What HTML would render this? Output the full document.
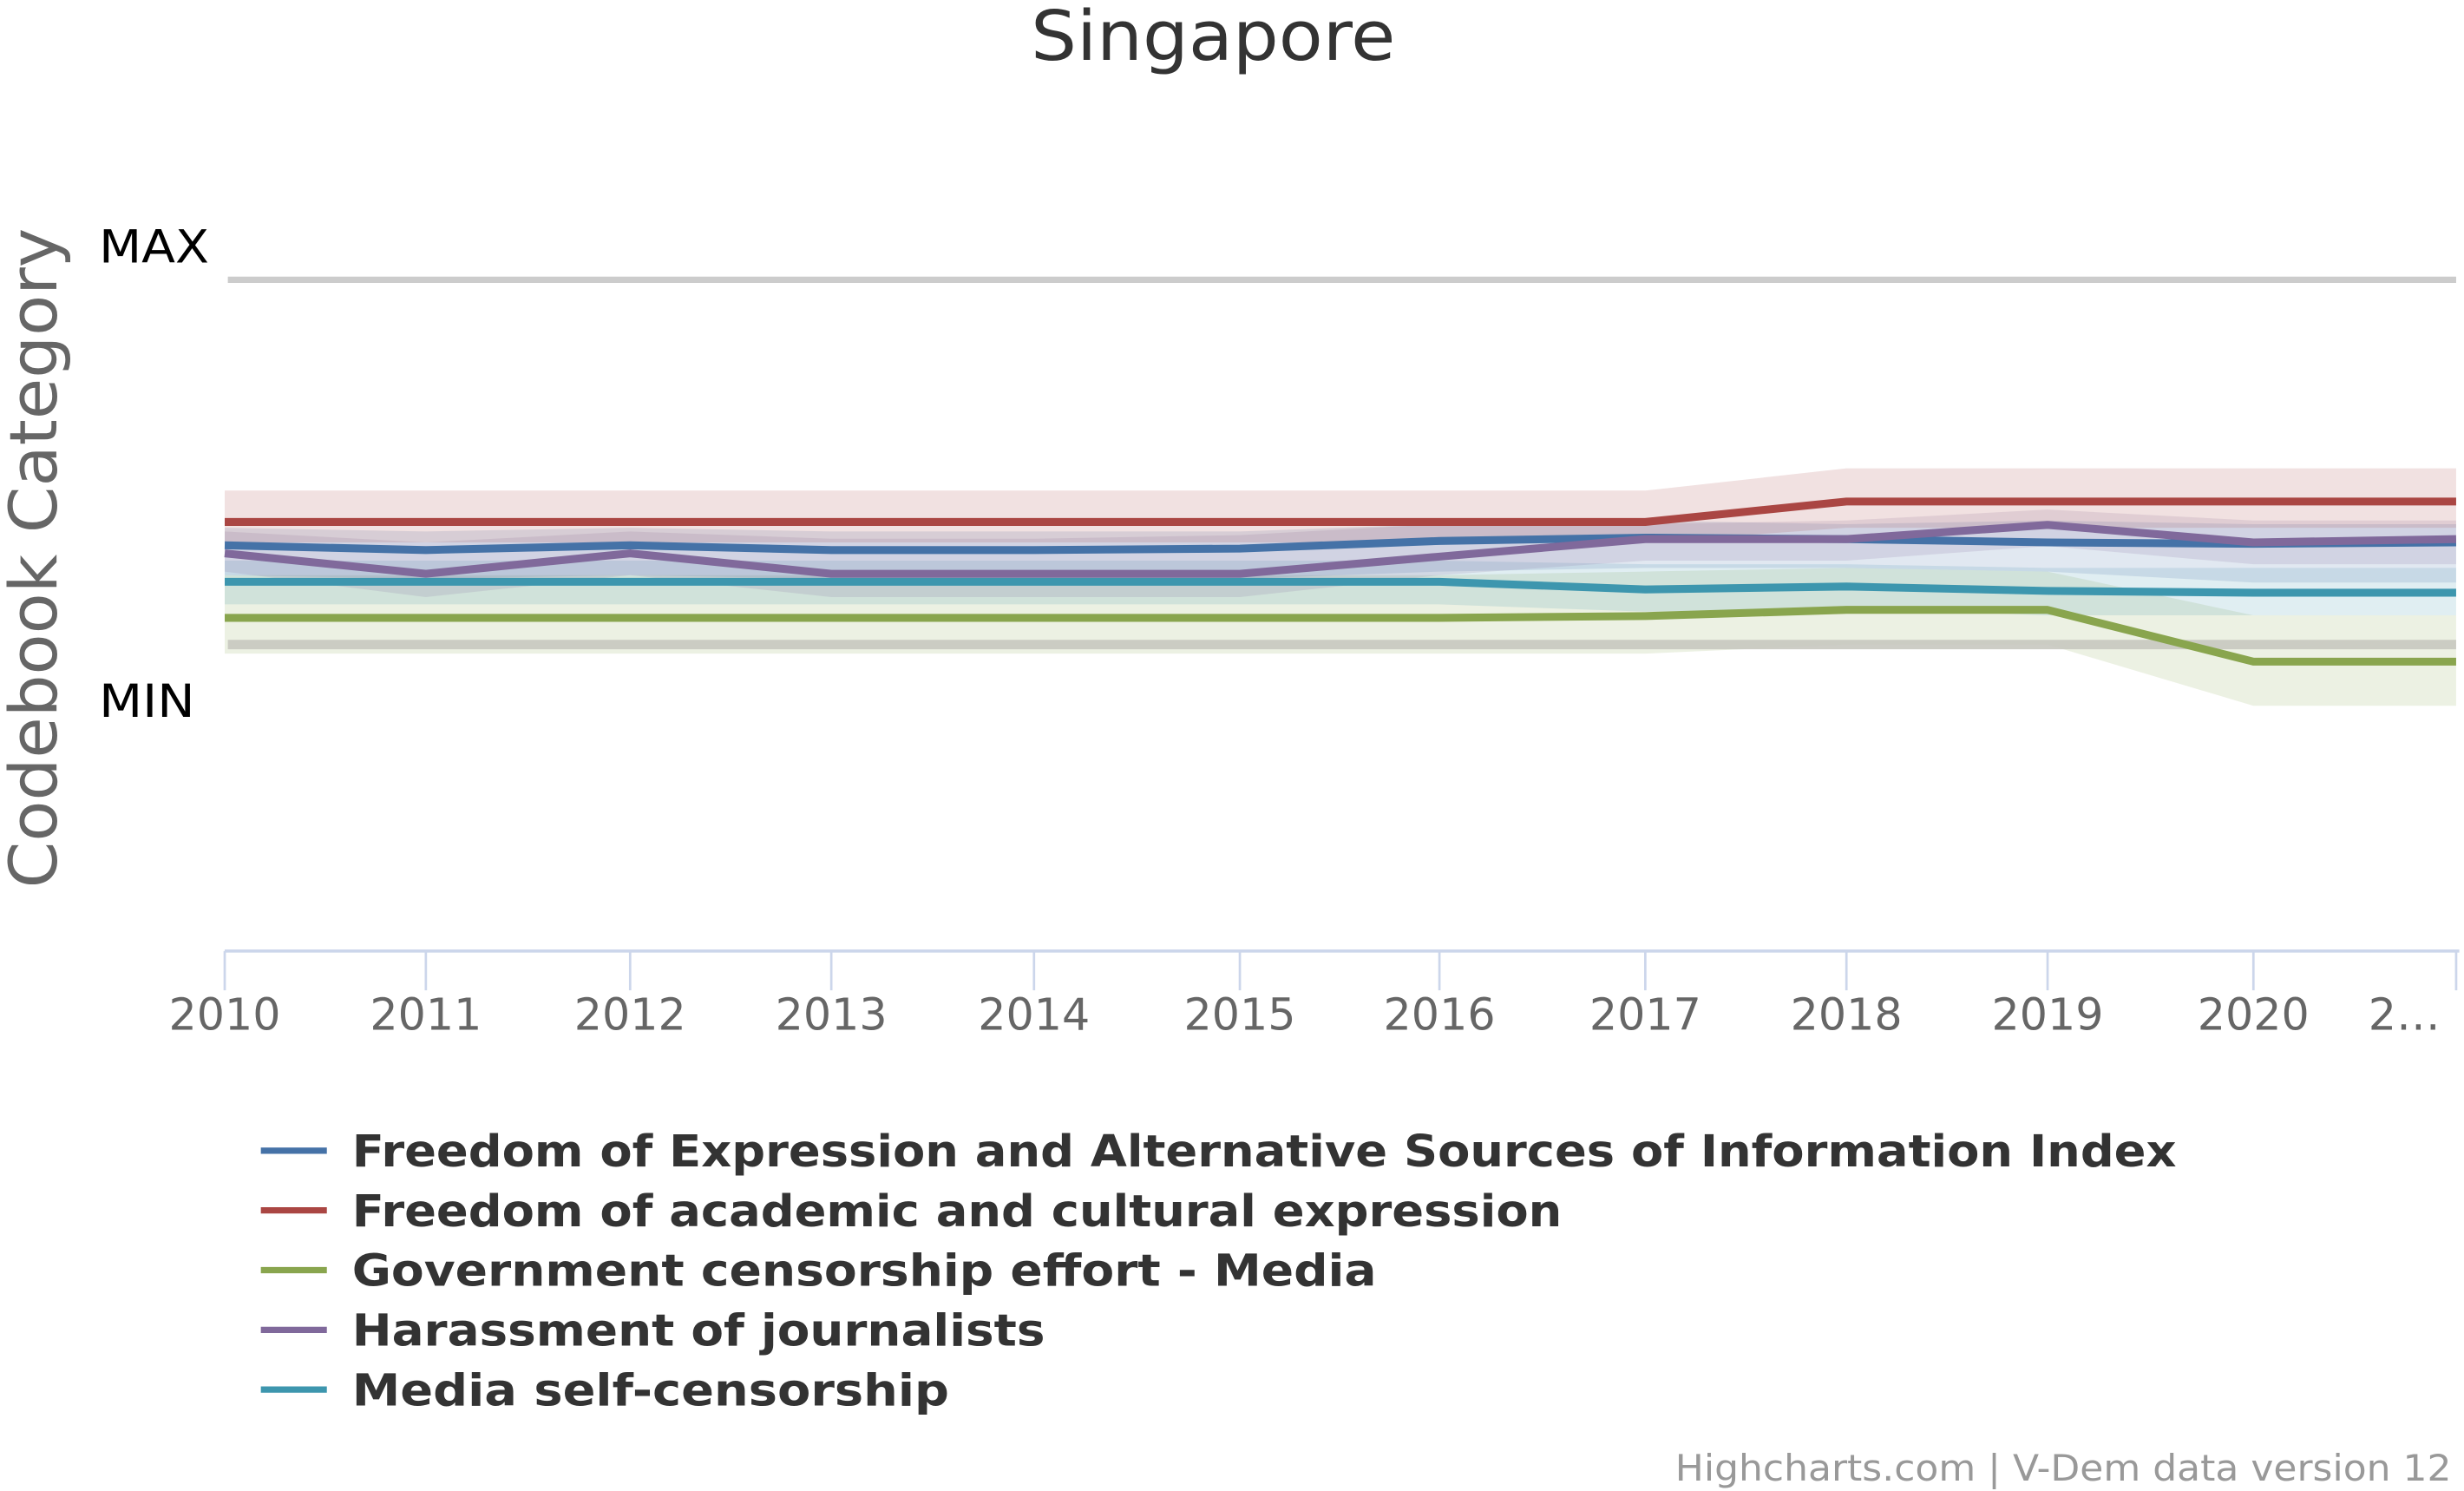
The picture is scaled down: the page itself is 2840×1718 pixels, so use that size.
<!DOCTYPE html>
<html><head><meta charset="utf-8"><style>
html,body{margin:0;padding:0;background:#fff;}
svg{display:block;font-family:"DejaVu Sans","Liberation Sans",sans-serif;}
</style></head><body>
<svg id="chart" width="2840" height="1718" viewBox="0 0 1568 948.5" xmlns="http://www.w3.org/2000/svg">
<text x="772" y="38" text-anchor="middle" font-size="44" fill="#333" textLength="232" lengthAdjust="spacingAndGlyphs">Singapore</text>
<text transform="translate(36,355) rotate(-90)" text-anchor="middle" font-size="42" fill="#666" textLength="420" lengthAdjust="spacingAndGlyphs">Codebook Category</text>
<line x1="145" x2="1563" y1="178" y2="178" stroke="#ccc" stroke-width="4"/>
<text x="63" y="167" font-size="29" fill="#000" textLength="70" lengthAdjust="spacingAndGlyphs">MAX</text>
<text x="63" y="456" font-size="29" fill="#000" textLength="61" lengthAdjust="spacingAndGlyphs">MIN</text>
<g id="bands"></g>
<line x1="145" x2="1563" y1="410" y2="410" stroke="#c8c8c0" stroke-width="6" opacity="0.9"/>
<g id="lines"></g>
<line x1="143" x2="1565" y1="605" y2="605" stroke="#ccd6eb" stroke-width="2"/>
<g id="xaxis"></g>
<g id="legend"></g>
<text x="1560" y="942" text-anchor="end" font-size="23" fill="#999" textLength="494" lengthAdjust="spacingAndGlyphs">Highcharts.com | V-Dem data version 12</text>
</svg>
<script>
const years = ["2010","2011","2012","2013","2014","2015","2016","2017","2018","2019","2020","2…"];
const seriesNames = ["Freedom of Expression and Alternative Sources of Information Index","Freedom of academic and cultural expression","Government censorship effort - Media","Harassment of journalists","Media self-censorship"];
const blueVals = [27.2,25.9,27.2,25.9,25.9,26.3,28.4,29.3,28.9,28.0,27.6,28.0];
const redVals = [33.6,33.6,33.6,33.6,33.6,33.6,33.6,33.6,39.2,39.2,39.2,39.2];
const greenVals = [7.3,7.3,7.3,7.3,7.3,7.3,7.3,7.8,9.5,9.5,-4.7,-4.7];
const purpleVals = [25.0,19.4,25.0,19.4,19.4,19.4,24.1,28.9,28.9,32.8,28.0,28.9];
const tealVals = [17.2,17.2,17.2,17.2,17.2,17.2,17.2,15.1,15.9,14.7,14.2,14.2];
const blueLo = [19,18,19,18,18,18,20,21,21,20,17,17];
const blueHi = [32,31,32,31,31,31,33,34,33,34,33,33];
const redLo = [28,28,28,28,28,28,28,28,32,32,32,32];
const redHi = [42.2,42.2,42.2,42.2,42.2,42.2,42.2,42.2,48.3,48.3,48.3,48.3];
const greenLo = [-2.5,-2.5,-2.5,-2.5,-2.5,-2.5,-2.5,-2.5,0,0,-16.8,-16.8];
const greenHi = [19,19,19,19,19,19,19,20,21,20,8,8];
const purpleLo = [20,13,19,13,13,13,19,23,23,27,22,22];
const purpleHi = [31,28,31,29,29,30,33,33,34,37,34,34];
const tealLo = [11,11,11,11,11,11,11,9,10,8,8,8];
const tealHi = [23,23,23,23,23,23,23,22,22,21,21,21];
const tickX = [143,271,401,529,658,789,916,1047,1175,1303,1434,1563];
function xs(i){return tickX[i];}
function ys(v){return 410 - v*2.32;}
const NS="http://www.w3.org/2000/svg";
const bands=document.getElementById('bands'), lines=document.getElementById('lines');
const defs=[
 {name:'blue',c:'#4572a7',v:blueVals,lo:blueLo,hi:blueHi},
 {name:'red',c:'#aa4643',v:redVals,lo:redLo,hi:redHi},
 {name:'green',c:'#89a54e',v:greenVals,lo:greenLo,hi:greenHi},
 {name:'purple',c:'#80699b',v:purpleVals,lo:purpleLo,hi:purpleHi},
 {name:'teal',c:'#3d96ae',v:tealVals,lo:tealLo,hi:tealHi}];
const order=[2,4,0,3,1];
order.forEach(k=>{const d=defs[k];
 let p='';d.hi.forEach((v,i)=>p+=(i?'L':'M')+xs(i)+' '+ys(v));
 for(let i=d.lo.length-1;i>=0;i--)p+='L'+xs(i)+' '+ys(d.lo[i]);
 const el=document.createElementNS(NS,'path');
 el.setAttribute('d',p+'Z');el.setAttribute('fill',d.c);el.setAttribute('fill-opacity','0.16');
 
 
 bands.appendChild(el);
});
order.forEach(k=>{const d=defs[k];
 let p='';d.v.forEach((v,i)=>p+=(i?'L':'M')+xs(i)+' '+ys(v));
 const el=document.createElementNS(NS,'path');
 el.setAttribute('d',p);el.setAttribute('fill','none');el.setAttribute('stroke',d.c);el.setAttribute('stroke-width','5');el.setAttribute('stroke-linejoin','round');
 
 
 lines.appendChild(el);
});
const xa=document.getElementById('xaxis');
years.forEach((y,i)=>{
 const t=document.createElementNS(NS,'line');
 t.setAttribute('x1',xs(i));t.setAttribute('x2',xs(i));t.setAttribute('y1',605);t.setAttribute('y2',630);t.setAttribute('stroke','#ccd6eb');t.setAttribute('stroke-width','1.5');
 
 
 xa.appendChild(t);
 const l=document.createElementNS(NS,'text');
 l.setAttribute('x',i==years.length-1?1530:xs(i));l.setAttribute('y',655);l.setAttribute('text-anchor','middle');l.setAttribute('font-size','28');l.setAttribute('fill','#666');
 l.textContent=y;
 
 
 xa.appendChild(l);
});
const lg=document.getElementById('legend');
const lw=[1161,770,652,441,380];
seriesNames.forEach((n,i)=>{
 const y=732+i*38;
 const g=document.createElementNS(NS,'g');
 
 
 const s=document.createElementNS(NS,'line');
 s.setAttribute('x1',166);s.setAttribute('x2',208);s.setAttribute('y1',y);s.setAttribute('y2',y);s.setAttribute('stroke',defs[i].c);s.setAttribute('stroke-width','4');
 
 
 g.appendChild(s);
 const t=document.createElementNS(NS,'text');
 t.setAttribute('x',224);t.setAttribute('y',y+10);t.setAttribute('font-size','28');t.setAttribute('font-weight','bold');t.setAttribute('fill','#333');
 t.setAttribute('textLength',lw[i]);t.setAttribute('lengthAdjust','spacingAndGlyphs');
 t.textContent=n;
 
 
 g.appendChild(t);
 lg.appendChild(g);
});
</script>
</body></html>
